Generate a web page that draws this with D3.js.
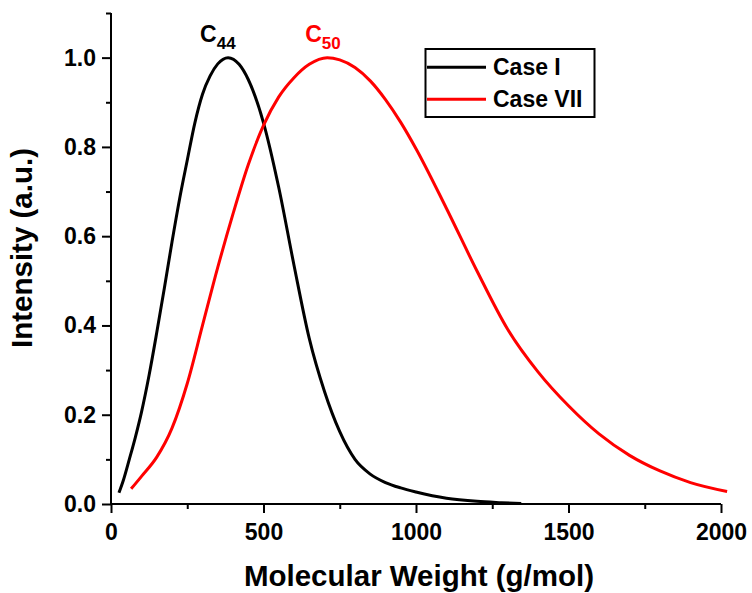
<!DOCTYPE html>
<html><head><meta charset="utf-8">
<script src="https://cdn.jsdelivr.net/npm/d3@7"></script>
<style>body{margin:0;background:#fff}svg{display:block}text{font-family:"Liberation Sans",Arial,sans-serif;font-weight:bold}</style>
</head><body><svg id="c" width="752" height="593"></svg>
<script>
const caseI_mw = [26,40,60,80,100,125,150,175,200,225,250,275,300,325,350,384,420,450,500,550,600,650,700,750,800,850,900,950,1000,1100,1200,1280,1345];
const caseI_int = [0.025,0.052,0.10,0.15,0.206,0.289,0.384,0.484,0.587,0.684,0.77,0.854,0.918,0.959,0.986,1.0,0.985,0.951,0.854,0.709,0.535,0.371,0.252,0.162,0.10,0.067,0.048,0.036,0.027,0.013,0.006,0.003,0.001];
const caseVII_mw = [66,100,150,200,250,300,350,400,450,500,550,600,650,709,750,800,850,900,950,1000,1100,1200,1300,1400,1500,1600,1700,1800,1900,2020];
const caseVII_int = [0.034,0.062,0.105,0.17,0.27,0.40,0.53,0.65,0.76,0.848,0.912,0.955,0.985,1.0,0.995,0.978,0.948,0.906,0.855,0.796,0.662,0.522,0.392,0.296,0.220,0.157,0.109,0.074,0.048,0.028];
const xTicks = [0,500,1000,1500,2000];
const yTicks = [0.0,0.2,0.4,0.6,0.8,1.0];
const seriesNames = ["Case I","Case VII"];
const seriesColors = ["#000000","#ff0000"];
const peakLabels = [{base:"C",sub:"44",x:384,dx:-28},{base:"C",sub:"50",x:709,dx:-22}];

const svg = d3.select("#c");
const L=111,R=721,T=13,B=504;
const x = d3.scaleLinear().domain([0,2000]).range([L,R]);
const y = d3.scaleLinear().domain([0,1.1]).range([B,T]);

// curves
const series = [
  caseI_mw.map((m,i)=>[m,caseI_int[i]]),
  caseVII_mw.map((m,i)=>[m,caseVII_int[i]])
];
const line = d3.line().x(d=>x(d[0])).y(d=>y(d[1])).curve(d3.curveMonotoneX);
series.forEach((s,i)=>{
  svg.append("path").attr("d",line(s)).attr("fill","none").attr("stroke",seriesColors[i]).attr("stroke-width",3).attr("stroke-linejoin","round");
});

// axes
const xAxis = svg.append("g").attr("transform",`translate(0,${B})`)
  .call(d3.axisBottom(x).tickValues(xTicks).tickSize(9).tickPadding(5).tickFormat(d3.format("d")));
const xMinor = svg.append("g").attr("transform",`translate(0,${B})`)
  .call(d3.axisBottom(x).tickValues([250,750,1250,1750]).tickSize(5).tickFormat(""));
const yAxis = svg.append("g").attr("transform",`translate(${L},0)`)
  .call(d3.axisLeft(y).tickValues(yTicks).tickSize(9).tickPadding(6).tickFormat(d3.format(".1f")));
const yMinor = svg.append("g").attr("transform",`translate(${L},0)`)
  .call(d3.axisLeft(y).tickValues([0.1,0.3,0.5,0.7,0.9,1.1]).tickSize(5).tickFormat(""));
[xAxis,xMinor,yAxis,yMinor].forEach(g=>{
  g.selectAll("path").attr("stroke","#000").attr("stroke-width",2);
  g.selectAll("line").attr("stroke","#000").attr("stroke-width",2);
  g.selectAll("text").attr("fill","#000").style("font-size","23px").style("font-family","Liberation Sans, Arial, sans-serif").style("font-weight","bold");
});
xAxis.selectAll("path").attr("d",`M${L},0H${R}`);
yAxis.selectAll("path").attr("d",`M0,${B}V${T}`);
xMinor.selectAll("path").remove(); yMinor.selectAll("path").remove();
xAxis.selectAll("text").attr("dy","0").attr("y",36);

// axis titles
svg.append("text").attr("x",419).attr("y",586).attr("text-anchor","middle").style("font-size","29.5px").text("Molecular Weight (g/mol)");
svg.append("text").attr("transform","translate(32,248) rotate(-90)").attr("text-anchor","middle").style("font-size","29.5px").text("Intensity (a.u.)");

// peak labels
peakLabels.forEach((p,i)=>{
  const t = svg.append("text").attr("x",x(p.x)+p.dx).attr("y",42).attr("fill",seriesColors[i]).style("font-size","23px");
  t.append("tspan").text(p.base);
  t.append("tspan").attr("dy",6.5).style("font-size","17px").text(p.sub);
});

// legend
const lg = svg.append("g");
lg.append("rect").attr("x",425.5).attr("y",49).attr("width",169).attr("height",68).attr("fill","none").attr("stroke","#000").attr("stroke-width",2);
seriesNames.forEach((n,i)=>{
  const yy = 67.3 + i*32;
  lg.append("line").attr("x1",427).attr("x2",486).attr("y1",yy).attr("y2",yy).attr("stroke",seriesColors[i]).attr("stroke-width",3);
  lg.append("text").attr("x",493).attr("y",yy+8).style("font-size","23px").attr("fill","#000").text(n);
});
</script></body></html>
